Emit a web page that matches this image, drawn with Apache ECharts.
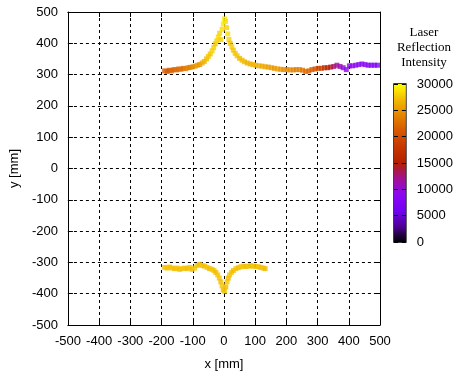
<!DOCTYPE html>
<html>
<head>
<meta charset="utf-8">
<script src="https://cdn.jsdelivr.net/npm/echarts@6/dist/echarts.min.js"></script>
<style>
  html, body { margin: 0; padding: 0; background: #fff; }
  #chart { width: 456px; height: 376px; }
</style>
</head>
<body>
<div id="chart"></div>
<script>
'use strict'

// upper contour (x, y in mm, intensity)
const topX = [-190, -182, -175, -168, -160, -152, -145, -138, -130, -122, -115, -108, -100,
  -92, -85, -78, -70, -63, -56, -50, -44, -38, -33, -28, -23, -18, -14, -10,
  -6, -2, 2, 5, 8, 12, 16, 20, 25, 30, 36, 42, 50, 58, 66, 75, 84, 93, 102,
  112, 122, 132, 142, 152, 162, 172, 182, 192, 202, 212, 222, 232, 242, 252, 262, 272, 282, 292, 302,
  312, 322, 332, 342, 352, 362, 372, 382, 392, 402, 412, 422, 432, 442, 452, 462, 472, 482, 492]
const topY = [312, 310, 314, 312, 316, 315, 318, 317, 320, 319, 322, 323, 325,
  327, 330, 332, 337, 342, 350, 358, 366, 376, 386, 398, 408, 420, 432, 412,
  445, 462, 478, 470, 450, 430, 412, 400, 388, 378, 368, 360, 352, 346, 341, 337, 334, 332, 330,
  328, 327, 325, 324, 322, 320, 318, 317, 316, 316, 315, 315, 316, 316, 314, 310, 312, 316, 318, 320,
  320, 322, 322, 324, 326, 330, 326, 322, 316, 328, 328, 330, 332, 334, 332, 330, 330, 330, 330]
const topI = [21000, 21500, 20500, 22000, 21500, 22500, 22000, 23000, 22500, 23500, 24000, 23500, 24500,
  25000, 25500, 25000, 26000, 26500, 27000, 27500, 27500, 28000, 28000, 27500, 28000, 28500, 28000, 28000,
  28500, 29000, 29000, 28500, 28000, 28500, 28000, 27500, 28000, 27500, 27500, 27500, 27000, 27000, 27000, 26500, 26500, 26500, 26500,
  26500, 26000, 26000, 25500, 25500, 25000, 25500, 25000, 24500, 24500, 24500, 24000, 23500, 24000, 23000, 22500, 22000, 21500, 20500, 19500,
  19000, 17500, 16000, 14500, 13000, 12000, 11000, 10000, 9000, 9500, 9000, 9000, 8500, 9000, 8500, 8500, 8000, 8500, 8000]

// lower contour
const botX = [-190, -182, -174, -166, -158, -150, -142, -134, -126, -118, -110, -102, -94, -86, -78, -70, -62, -54, -46, -38,
  -32, -26, -20, -15, -10, -6, -2, 2, 6, 10, 14, 18, 24, 30, 38, 46, 54, 62, 70, 78, 86, 94, 102, 110, 118, 126, 132]
const botY = [-316, -318, -315, -318, -320, -318, -322, -320, -318, -320, -316, -322, -318, -310, -306, -310, -312, -316, -320, -322,
  -326, -332, -340, -350, -362, -375, -388, -392, -378, -362, -350, -340, -332, -326, -320, -317, -314, -312, -313, -312, -311, -312, -313, -314, -316, -318, -320]
const botI = [27000, 27500, 27000, 27500, 27000, 27500, 27000, 27500, 27500, 27000, 27500, 27000, 27500, 27500, 27000, 27500, 27000, 27500, 27000, 27500,
  27500, 27000, 27500, 27500, 27000, 27500, 27000, 27500, 27000, 27500, 27000, 27500, 27500, 27000, 27500, 27000, 27500, 27500, 27000, 27500, 27000, 27500, 27000, 27500, 27000, 27500, 27000]

// colour scale (black - blue - red - yellow), 0 .. 30000
const palette = ['#000000', '#510096', '#7202f2', '#8c07f2', '#a11096', '#b42000',
  '#c63700', '#d55700', '#e48300', '#f2ba00', '#ffff00']
const cbMax = 30000
const cbStep = 5000

function zip(xs, ys, is) {
  return xs.map((x, k) => [x, ys[k], is[k]])
}

const chart = echarts.init(document.getElementById('chart'), null, { renderer: 'canvas' })

const font = 'Liberation Sans, Arial, sans-serif'
const dashed = { show: true, lineStyle: { color: '#000', type: [3, 3], width: 1 } }
const tickIn = { show: true, inside: true, length: 5, lineStyle: { color: '#000' } }
const line = { show: true, onZero: false, lineStyle: { color: '#000', width: 1 } }
const lbl = { color: '#000', fontSize: 13, fontFamily: font }

const option = {
  animation: false,
  grid: [
    { left: 63, top: 12, width: 317, height: 314 },
    { left: 394, top: 84, width: 18, height: 158, show: true, borderColor: '#000', borderWidth: 1.5 }
  ],
  xAxis: [
    { gridIndex: 0, type: 'value', min: -500, max: 500, interval: 100,
      name: 'x [mm]', nameLocation: 'middle', nameGap: 33, nameTextStyle: lbl,
      axisLine: line, axisTick: tickIn, splitLine: dashed,
      axisLabel: Object.assign({ margin: 10 }, lbl) },
    { gridIndex: 0, type: 'value', position: 'top', min: -500, max: 500, interval: 100,
      axisLine: line, axisTick: tickIn, splitLine: { show: false }, axisLabel: { show: false } },
    { gridIndex: 1, type: 'category', data: ['c'], show: false }
  ],
  yAxis: [
    { gridIndex: 0, type: 'value', min: -500, max: 500, interval: 100,
      name: 'y [mm]', nameLocation: 'middle', nameGap: 35, nameTextStyle: lbl,
      axisLine: line, axisTick: tickIn, splitLine: dashed,
      axisLabel: Object.assign({ margin: 10 }, lbl) },
    { gridIndex: 0, type: 'value', position: 'right', min: -500, max: 500, interval: 100,
      axisLine: line, axisTick: tickIn, splitLine: { show: false }, axisLabel: { show: false } },
    { gridIndex: 1, type: 'value', position: 'right', min: 0, max: cbMax, interval: cbStep, z: 10,
      axisLine: { show: false }, axisTick: { show: true, inside: true, length: 4, lineStyle: { color: '#000' } },
      splitLine: { show: false },
      axisLabel: Object.assign({ margin: 11, formatter: v => String(v) }, lbl) },
    { gridIndex: 1, type: 'value', position: 'left', min: 0, max: cbMax, interval: cbStep, z: 10,
      axisLine: { show: false }, axisTick: { show: true, inside: true, length: 4, lineStyle: { color: '#000' } },
      splitLine: { show: false }, axisLabel: { show: false } }
  ],
  visualMap: {
    show: false, type: 'continuous', min: 0, max: cbMax, dimension: 2, seriesIndex: [0, 1],
    inRange: { color: palette }
  },
  graphic: [{
    type: 'text', x: 424, y: 25, z: 10,
    style: { text: 'Laser\nReflection\nIntensity', fill: '#000', align: 'center',
      font: '13px "Liberation Serif", "Times New Roman", serif', lineHeight: 15 }
  }],
  series: [
    { type: 'scatter', xAxisIndex: 0, yAxisIndex: 0, symbol: 'rect', symbolSize: 5,
      data: zip(topX, topY, topI) },
    { type: 'scatter', xAxisIndex: 0, yAxisIndex: 0, symbol: 'rect', symbolSize: 5,
      data: zip(botX, botY, botI) },
    { type: 'bar', xAxisIndex: 2, yAxisIndex: 2, barWidth: '100%', z: 1, silent: true,
      data: [cbMax],
      itemStyle: { color: new echarts.graphic.LinearGradient(0, 1, 0, 0,
        palette.map((c, k) => ({ offset: k / (palette.length - 1), color: c }))) } }
  ]
}

chart.setOption(option)
</script>
</body>
</html>
